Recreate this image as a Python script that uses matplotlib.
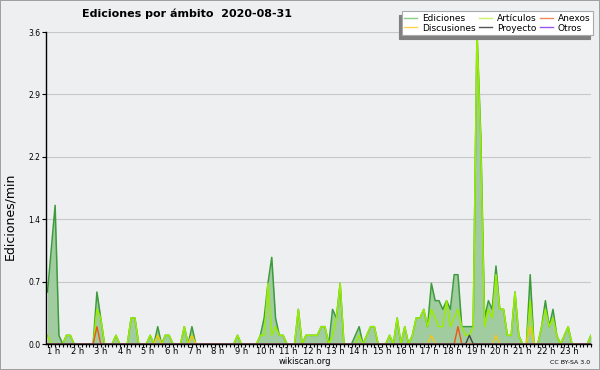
import matplotlib
matplotlib.use('Agg')
import matplotlib.pyplot as plt
import numpy as np
from matplotlib.lines import Line2D

# edits per minute, 10-minute bins (6 per hour), 24 values per row = 4 hours
ediciones = [
    0.6, 1.1, 1.6, 0.1, 0, 0.1, 0.1, 0, 0, 0, 0, 0, 0, 0.6, 0.3, 0, 0, 0, 0.1, 0, 0, 0, 0.3, 0.3,
    0, 0, 0, 0.1, 0, 0.2, 0, 0.1, 0.1, 0, 0, 0, 0.2, 0, 0.2, 0, 0, 0, 0, 0, 0, 0, 0, 0,
    0, 0, 0.1, 0, 0, 0, 0, 0, 0.1, 0.3, 0.7, 1.0, 0.3, 0.1, 0.1, 0, 0, 0, 0.4, 0, 0.1, 0.1, 0.1, 0.1,
    0.2, 0.2, 0, 0.4, 0.3, 0.7, 0, 0, 0, 0.1, 0.2, 0, 0.1, 0.2, 0.2, 0, 0, 0, 0.1, 0, 0.3, 0, 0.2, 0,
    0.1, 0.3, 0.3, 0.4, 0.2, 0.7, 0.5, 0.5, 0.4, 0.5, 0.4, 0.8, 0.8, 0.2, 0.2, 0.2, 0.2, 3.6, 2.4, 0.3, 0.5, 0.4, 0.9, 0.4,
    0.4, 0.1, 0.1, 0.6, 0.1, 0, 0, 0.8, 0, 0, 0.2, 0.5, 0.2, 0.4, 0.1, 0, 0.1, 0.2, 0, 0, 0, 0, 0, 0.1,
]
articulos = [
    0.1, 0, 0, 0, 0, 0.1, 0.1, 0, 0, 0, 0, 0, 0, 0.4, 0.3, 0, 0, 0, 0.1, 0, 0, 0, 0.3, 0.3,
    0, 0, 0, 0.1, 0, 0.1, 0, 0.1, 0.1, 0, 0, 0, 0.2, 0, 0.1, 0, 0, 0, 0, 0, 0, 0, 0, 0,
    0, 0, 0.1, 0, 0, 0, 0, 0, 0.1, 0.1, 0.7, 0.1, 0.2, 0.1, 0.1, 0, 0, 0, 0.4, 0, 0.1, 0.1, 0.1, 0.1,
    0.2, 0.2, 0, 0.1, 0.3, 0.7, 0, 0, 0, 0, 0.1, 0, 0.1, 0.2, 0.2, 0, 0, 0, 0.1, 0, 0.3, 0, 0.2, 0,
    0.1, 0.3, 0.3, 0.4, 0.2, 0.4, 0.3, 0.2, 0.2, 0.5, 0.2, 0.3, 0.4, 0.2, 0.1, 0.1, 0.2, 3.6, 2.3, 0.2, 0.4, 0.3, 0.8, 0.4,
    0.4, 0.1, 0.1, 0.6, 0.1, 0, 0, 0.5, 0, 0, 0.2, 0.4, 0.2, 0.3, 0.1, 0, 0.1, 0.2, 0, 0, 0, 0, 0, 0.1,
]
discusiones = [
    0, 0, 0, 0, 0, 0, 0, 0, 0, 0, 0, 0, 0, 0, 0, 0, 0, 0, 0, 0, 0, 0, 0, 0,
    0, 0, 0, 0, 0, 0.1, 0, 0, 0, 0, 0, 0, 0, 0, 0.1, 0, 0, 0, 0, 0, 0, 0, 0, 0,
    0, 0, 0, 0, 0, 0, 0, 0, 0, 0, 0, 0, 0, 0, 0, 0, 0, 0, 0, 0, 0, 0, 0, 0,
    0, 0, 0, 0, 0, 0, 0, 0, 0, 0, 0, 0, 0, 0, 0, 0, 0, 0, 0, 0, 0, 0, 0, 0,
    0, 0, 0, 0, 0, 0.1, 0, 0, 0, 0, 0, 0, 0, 0, 0, 0, 0, 0, 0, 0, 0, 0, 0.1, 0,
    0, 0, 0, 0, 0, 0, 0, 0.2, 0, 0, 0, 0, 0, 0, 0, 0, 0, 0, 0, 0, 0, 0, 0, 0,
]
anexos = [
    0, 0, 0, 0, 0, 0, 0, 0, 0, 0, 0, 0, 0, 0.2, 0, 0, 0, 0, 0, 0, 0, 0, 0, 0,
    0, 0, 0, 0, 0, 0, 0, 0, 0, 0, 0, 0, 0, 0, 0, 0, 0, 0, 0, 0, 0, 0, 0, 0,
    0, 0, 0, 0, 0, 0, 0, 0, 0, 0, 0, 0, 0, 0, 0, 0, 0, 0, 0, 0, 0, 0, 0, 0,
    0, 0, 0, 0, 0, 0, 0, 0, 0, 0, 0, 0, 0, 0, 0, 0, 0, 0, 0, 0, 0, 0, 0, 0,
    0, 0, 0, 0, 0, 0, 0, 0, 0, 0, 0, 0, 0.2, 0, 0, 0, 0, 0, 0, 0, 0, 0, 0, 0,
    0, 0, 0, 0, 0, 0, 0, 0, 0, 0, 0, 0, 0, 0, 0, 0, 0, 0, 0, 0, 0, 0, 0, 0,
]
proyecto = [
    0, 0, 0, 0, 0, 0, 0, 0, 0, 0, 0, 0, 0, 0, 0, 0, 0, 0, 0, 0, 0, 0, 0, 0,
    0, 0, 0, 0, 0, 0, 0, 0, 0, 0, 0, 0, 0, 0, 0, 0, 0, 0, 0, 0, 0, 0, 0, 0,
    0, 0, 0, 0, 0, 0, 0, 0, 0, 0, 0, 0, 0, 0, 0, 0, 0, 0, 0, 0, 0, 0, 0, 0,
    0, 0, 0, 0, 0, 0, 0, 0, 0, 0, 0, 0, 0, 0, 0, 0, 0, 0, 0, 0, 0, 0, 0, 0,
    0, 0, 0, 0, 0, 0, 0, 0, 0, 0, 0, 0, 0, 0, 0, 0.1, 0, 0, 0, 0, 0, 0, 0, 0,
    0, 0, 0, 0, 0, 0, 0, 0, 0, 0, 0, 0, 0, 0, 0, 0, 0, 0, 0, 0, 0, 0, 0, 0,
]
otros = [0] * 144

hours = list(range(1, 24))
hour_labels = ['%d h' % h for h in hours]
ytick_vals = [0.0, 0.72, 1.44, 2.16, 2.88, 3.6]

bg = '#eeeff0'
fig = plt.figure(figsize=(6, 3.7), dpi=100, facecolor=bg)
fig.patch.set_edgecolor('#a0a0a0')
fig.patch.set_linewidth(1.2)
ax = fig.add_axes([46 / 600, 1 - 344 / 370, 545 / 600, 312 / 370])
ax.set_facecolor(bg)

x = np.arange(len(ediciones))
ax.fill_between(x, ediciones, color='#a0cca0', lw=0, zorder=2)
ax.plot(x, ediciones, color='#3c9c3c', lw=1.1, zorder=3)
ax.plot(x, articulos, color='#99ee00', lw=1.1, zorder=4)
ax.plot(x, discusiones, color='#f5c518', lw=1.0, zorder=5)
ax.plot(x, anexos, color='#ee5511', lw=1.0, zorder=5)
ax.plot(x, proyecto, color='#444444', lw=1.0, zorder=5)
ax.plot(x, otros, color='#8844dd', lw=1.0, zorder=5)

ax.set_xlim(-0.4, 143.0)
ax.set_ylim(0, 3.6)
ax.set_yticks(ytick_vals)
ax.set_yticklabels(['%.1f' % v for v in ytick_vals], fontsize=5.5)
ax.yaxis.grid(True, color='#c8c8c8', lw=0.8)
ax.set_axisbelow(True)

# hour labels are a little wider spaced than the 10 minute bins
hour_pos = [6.166 * h - 4.45 for h in hours]
ax.set_xticks(hour_pos)
ax.set_xticklabels(hour_labels, fontsize=6)
ax.set_xticks(np.arange(0, 144), minor=True)
ax.tick_params(axis='x', which='major', length=0, pad=2)
ax.tick_params(axis='x', which='minor', length=2.5, width=0.8, direction='out')
ax.tick_params(axis='y', length=3, width=0.8, pad=1)
for s in ['top', 'right']:
    ax.spines[s].set_visible(False)
for s in ['left', 'bottom']:
    ax.spines[s].set_linewidth(1.0)
    ax.spines[s].set_zorder(10)

fig.text(10 / 600, 1 - 216 / 370, 'Ediciones/min', rotation=90,
         ha='center', va='center', fontsize=9)
fig.text(187 / 600, 1 - 14 / 370, 'Ediciones por ámbito  2020-08-31',
         ha='center', va='center', fontsize=8, fontweight='bold')
fig.text(305 / 600, 1 - 361 / 370, 'wikiscan.org', ha='center', va='center', fontsize=6)
fig.text(590 / 600, 1 - 362 / 370, 'CC BY-SA 3.0', ha='right', va='center', fontsize=4.5)

handles = [
    Line2D([], [], color='#88cc88', lw=1),
    Line2D([], [], color='#ffd24d', lw=1),
    Line2D([], [], color='#ccf266', lw=1),
    Line2D([], [], color='#555555', lw=1),
    Line2D([], [], color='#f58a5a', lw=1),
    Line2D([], [], color='#9955ee', lw=1),
]
names = ['Ediciones', 'Discusiones', 'Artículos', 'Proyecto', 'Anexos', 'Otros']
leg = fig.legend(handles, names, ncol=3, fontsize=6.5, loc='upper right',
                 bbox_to_anchor=(593 / 600, 1 - 11 / 370), frameon=True, fancybox=False,
                 shadow={'ox': -2.2, 'oy': -2.8, 'color': '#808080', 'alpha': 1},
                 handlelength=1.45, handletextpad=0.5, columnspacing=0.4,
                 labelspacing=0.1, borderpad=0.3, borderaxespad=0)
leg.get_frame().set_edgecolor('#aaaaaa')
leg.get_frame().set_linewidth(0.8)

fig.savefig('out.png', dpi=100, facecolor=bg, edgecolor=fig.get_edgecolor())
